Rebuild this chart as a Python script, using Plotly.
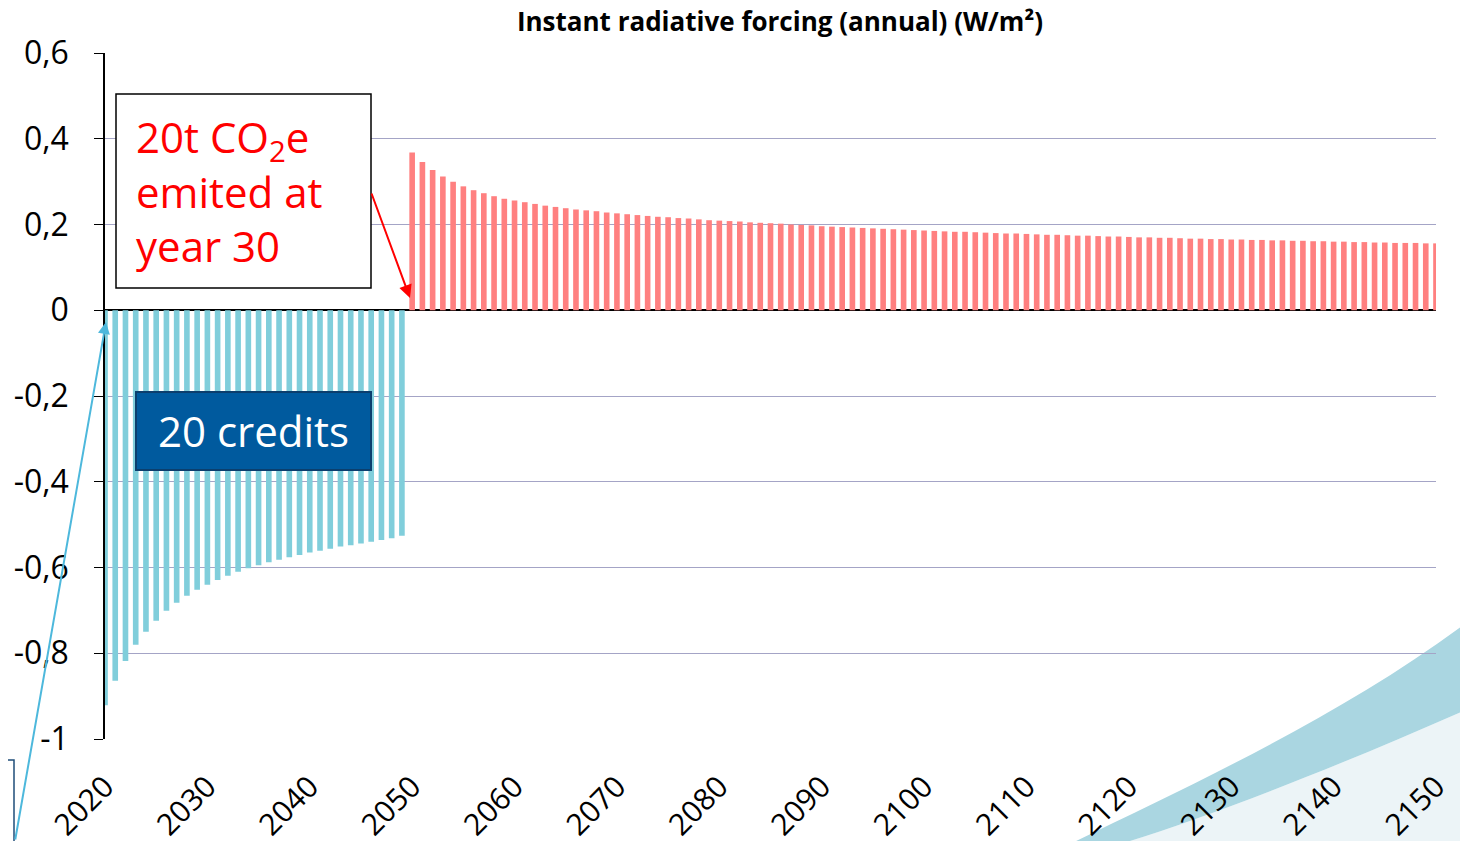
import plotly.graph_objects as go

# ---- data ----
credit_years = list(range(2020, 2050))
credit_values = [-0.921, -0.864, -0.818, -0.780, -0.750, -0.724, -0.701, -0.682, -0.666, -0.652,
                 -0.640, -0.629, -0.619, -0.610, -0.602, -0.595, -0.588, -0.582, -0.576, -0.571,
                 -0.565, -0.561, -0.556, -0.551, -0.548, -0.544, -0.540, -0.536, -0.532, -0.526]

emit_years = list(range(2050, 2151))
emit_values = [0.368, 0.346, 0.327, 0.312, 0.300, 0.289, 0.280, 0.273, 0.266, 0.260,
               0.256, 0.252, 0.248, 0.244, 0.241, 0.238, 0.235, 0.233, 0.231, 0.228,
               0.226, 0.224, 0.222, 0.220, 0.218, 0.217, 0.215, 0.214, 0.212, 0.210,
               0.209, 0.208, 0.207, 0.205, 0.204, 0.203, 0.202, 0.200,
               0.199, 0.198, 0.196, 0.195, 0.194, 0.193, 0.192, 0.191, 0.190, 0.189,
               0.188, 0.187, 0.186, 0.185, 0.184, 0.183, 0.183, 0.182, 0.181, 0.180,
               0.179, 0.179, 0.178, 0.177, 0.176, 0.176, 0.175, 0.174, 0.174, 0.173,
               0.172, 0.172, 0.171, 0.170, 0.170, 0.169, 0.169, 0.168, 0.167, 0.167,
               0.166, 0.166, 0.165, 0.165, 0.164, 0.164, 0.163, 0.163, 0.162, 0.162,
               0.161, 0.161, 0.160, 0.160, 0.159, 0.159, 0.158, 0.158, 0.157, 0.157,
               0.157, 0.156, 0.156]

x_tick_vals = list(range(2020, 2151, 10))
x_tick_text = [str(v) for v in x_tick_vals]
y_tick_vals = [-1, -0.8, -0.6, -0.4, -0.2, 0, 0.2, 0.4, 0.6]
y_tick_text = ["-1", "-0,8", "-0,6", "-0,4", "-0,2", "0", "0,2", "0,4", "0,6"]

title_text = "<b>Instant radiative forcing (annual) (W/m²)</b>"
emit_label = "20t CO<sub>2</sub>e<br>emited at<br>year 30"
credit_label = "20 credits"

# ---- layout geometry (page has an 8px body margin) ----
OFF = 8
W, H = 1468 - OFF, 841 - OFF
X0, X1, Y0, Y1 = 105, 1436, 53, 739          # plot area in window pixels
L, R, T, B = X0 - OFF, 1468 - X1, Y0 - OFF, 841 - Y1
PW, PH = X1 - X0, Y1 - Y0
FONT = "Open Sans"


def px(x):
    return (x - X0) / PW


def py(y):
    return (Y1 - y) / PH


fig = go.Figure()
fig.add_trace(go.Bar(x=credit_years, y=credit_values, width=0.55,
                     marker=dict(color="#80CEDB", line=dict(width=0)), showlegend=False))
fig.add_trace(go.Bar(x=emit_years, y=emit_values, width=0.55,
                     marker=dict(color="#FF8080", line=dict(width=0)), showlegend=False))

shapes = []
# decorative swoosh (bottom-right)
lower = (f"M {px(1117)},{py(845)} C {px(1200)},{py(820)} {px(1330)},{py(770)} {px(1470)},{py(708)} "
         f"L {px(1470)},{py(845)} Z")
shapes.append(dict(type="path", xref="paper", yref="paper", path=lower,
                   fillcolor="#ECF4F7", line=dict(width=0), layer="below"))
band = (f"M {px(1068)},{py(845)} C {px(1180)},{py(790)} {px(1340)},{py(718)} {px(1470)},{py(620)} "
        f"L {px(1470)},{py(708)} C {px(1330)},{py(770)} {px(1200)},{py(820)} {px(1117)},{py(845)} Z")
shapes.append(dict(type="path", xref="paper", yref="paper", path=band,
                   fillcolor="#AAD6E1", line=dict(width=0), layer="below"))
# text box for emission
shapes.append(dict(type="rect", xref="paper", yref="paper",
                   x0=px(116), x1=px(371), y0=py(288), y1=py(94),
                   fillcolor="white", line=dict(color="black", width=1.5)))
# credits box
shapes.append(dict(type="rect", xref="paper", yref="paper",
                   x0=px(136), x1=px(371), y0=py(470), y1=py(392),
                   fillcolor="#005A9E", line=dict(color="#0B3F6E", width=2)))
# cut-off box at bottom-left
shapes.append(dict(type="path", xref="paper", yref="paper",
                   path=f"M {px(-5)},{py(760)} L {px(14)},{py(760)} L {px(14)},{py(850)}",
                   line=dict(color="#1F4E79", width=1.5)))

annotations = [
    dict(xref="paper", yref="paper", x=px(134), y=py(191), xanchor="left", yanchor="middle",
         text=emit_label, showarrow=False, align="left",
         font=dict(family=FONT, size=42, color="#FF0000")),
    dict(xref="paper", yref="paper", x=px(253.5), y=py(431), xanchor="center", yanchor="middle",
         text=credit_label, showarrow=False,
         font=dict(family=FONT, size=42, color="white")),
    # red arrow
    dict(xref="paper", yref="paper", x=px(410), y=py(298), ax=-39, ay=-106,
         text="", showarrow=True, arrowhead=2, arrowsize=1.3, arrowwidth=2, arrowcolor="#FF0000"),
    # blue arrow
    dict(xref="paper", yref="paper", x=px(106), y=py(322), ax=-91, ay=519,
         text="", showarrow=True, arrowhead=2, arrowsize=1.2, arrowwidth=2, arrowcolor="#4DB8DC"),
]

fig.update_layout(
    width=W, height=H, autosize=False,
    margin=dict(l=L, r=R, t=T, b=B, autoexpand=False),
    paper_bgcolor="white", plot_bgcolor="rgba(0,0,0,0)",
    title=dict(text=title_text, x=px(780), xref="paper", xanchor="center",
               y=1 - (22 - OFF) / H, yref="container", yanchor="middle",
               font=dict(family=FONT, size=26, color="black")),
    font=dict(family=FONT, color="black"),
    barmode="overlay",
    shapes=shapes,
    annotations=annotations,
    xaxis=dict(range=[2020, 2150], tickmode="array", tickvals=x_tick_vals, ticktext=x_tick_text,
               tickangle=-45, tickfont=dict(family=FONT, size=30, color="black"),
               showgrid=False, zeroline=False, showline=False, ticks="",
               ticklabelstandoff=23, automargin=False),
    yaxis=dict(range=[-1, 0.6], tickmode="array", tickvals=y_tick_vals, ticktext=y_tick_text,
               tickfont=dict(family=FONT, size=32, color="black"),
               showgrid=True, gridcolor="#A4A4C6", gridwidth=1.3,
               zeroline=True, zerolinecolor="black", zerolinewidth=1.6,
               showline=True, linecolor="black", linewidth=1.5,
               ticks="outside", ticklen=9, tickcolor="black", tickwidth=1.3,
               ticklabelstandoff=19, automargin=False),
)

fig.write_html("out.html", config={"displayModeBar": False})
